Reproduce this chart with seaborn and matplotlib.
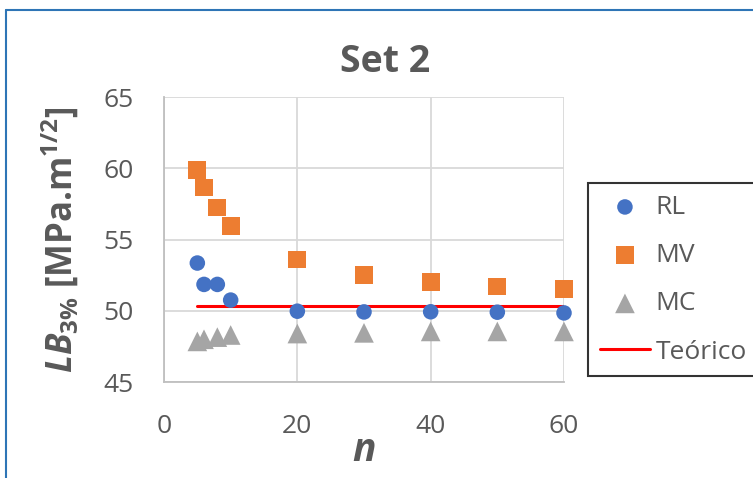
import matplotlib
matplotlib.use('Agg')
import matplotlib.pyplot as plt
import seaborn as sns
from matplotlib.lines import Line2D

# datos
n = [5, 6, 8, 10, 20, 30, 40, 50, 60]
rl = [53.35, 51.85, 51.85, 50.75, 49.97, 49.92, 49.93, 49.9, 49.85]
mv = [59.9, 58.65, 57.25, 55.95, 53.6, 52.5, 52.0, 51.7, 51.5]
mc = [47.85, 48.0, 48.15, 48.3, 48.4, 48.45, 48.55, 48.55, 48.55]
teorico_n = [5, 60]
teorico = [50.3, 50.3]

azul = "#4472C4"
naranja = "#ED7D31"
gris = "#A5A5A5"
texto = "#595959"

sns.set_style('white')
plt.rcParams['font.family'] = ['Open Sans', 'DejaVu Sans']
plt.rcParams['mathtext.fontset'] = 'custom'
plt.rcParams['mathtext.rm'] = 'Open Sans'
plt.rcParams['mathtext.it'] = 'Open Sans:italic:bold'
plt.rcParams['mathtext.bf'] = 'Open Sans:bold'

fig = plt.figure(figsize=(7.53, 4.78), dpi=100)
ax = fig.add_axes([0.2178, 0.2008, 0.5312, 0.5962])

sns.scatterplot(x=n, y=rl, marker='o', s=125, color=azul, edgecolor='none', label='RL', ax=ax, zorder=4, clip_on=False)
sns.scatterplot(x=n, y=mv, marker='s', s=165, color=naranja, edgecolor='none', label='MV', ax=ax, zorder=4, clip_on=False)
sns.scatterplot(x=n, y=mc, marker='^', s=200, color=gris, edgecolor='none', label='MC', ax=ax, zorder=4, clip_on=False)
sns.lineplot(x=teorico_n, y=teorico, color='red', linewidth=2.2, label='Teórico', ax=ax, zorder=3)

ax.set_xlim(0, 60)
ax.set_ylim(45, 65)
ax.set_xticks([0, 20, 40, 60])
ax.set_yticks([45, 50, 55, 60, 65])
ax.grid(True, color='#D9D9D9', linewidth=1.3)
ax.set_axisbelow(True)
for lado in ['top', 'right']:
    ax.spines[lado].set_visible(False)
for lado in ['left', 'bottom']:
    ax.spines[lado].set_color('#BFBFBF')
    ax.spines[lado].set_linewidth(1.3)
ax.tick_params(axis='both', length=0, labelsize=19, labelcolor=texto)
ax.tick_params(axis='x', pad=23)
ax.tick_params(axis='y', pad=22)

ax.set_title('Set 2', fontsize=27, fontweight='bold', color=texto, pad=18, x=0.5525)
ax.set_xlabel(r'$\mathit{n}$', fontsize=28, color=texto, labelpad=-5)
ax.set_ylabel(r'$\mathit{LB}_{\mathbf{3\%}}$ [MPa.m$^{\mathbf{1/2}}$]', fontsize=25,
              fontweight='bold', color=texto, labelpad=16)

leg = ax.legend(loc='upper left', bbox_to_anchor=(588 / 753, 1 - 183 / 478),
                bbox_transform=fig.transFigure, fontsize=19, frameon=True,
                fancybox=False, edgecolor='black', labelspacing=0.88,
                handlelength=1.9, handletextpad=0.2, borderpad=0.45, borderaxespad=0)
leg.get_frame().set_linewidth(1.5)
for t in leg.get_texts():
    t.set_color(texto)

# borde azul del grafico (solo izquierda y arriba quedan visibles)
fig.add_artist(Line2D([6 / 753, 6 / 753], [0, 1 - 10 / 478], transform=fig.transFigure,
                      color='#2E75B6', linewidth=1.5))
fig.add_artist(Line2D([6 / 753, 1], [1 - 10 / 478, 1 - 10 / 478], transform=fig.transFigure,
                      color='#2E75B6', linewidth=1.5))

fig.savefig('out.png', dpi=100)
